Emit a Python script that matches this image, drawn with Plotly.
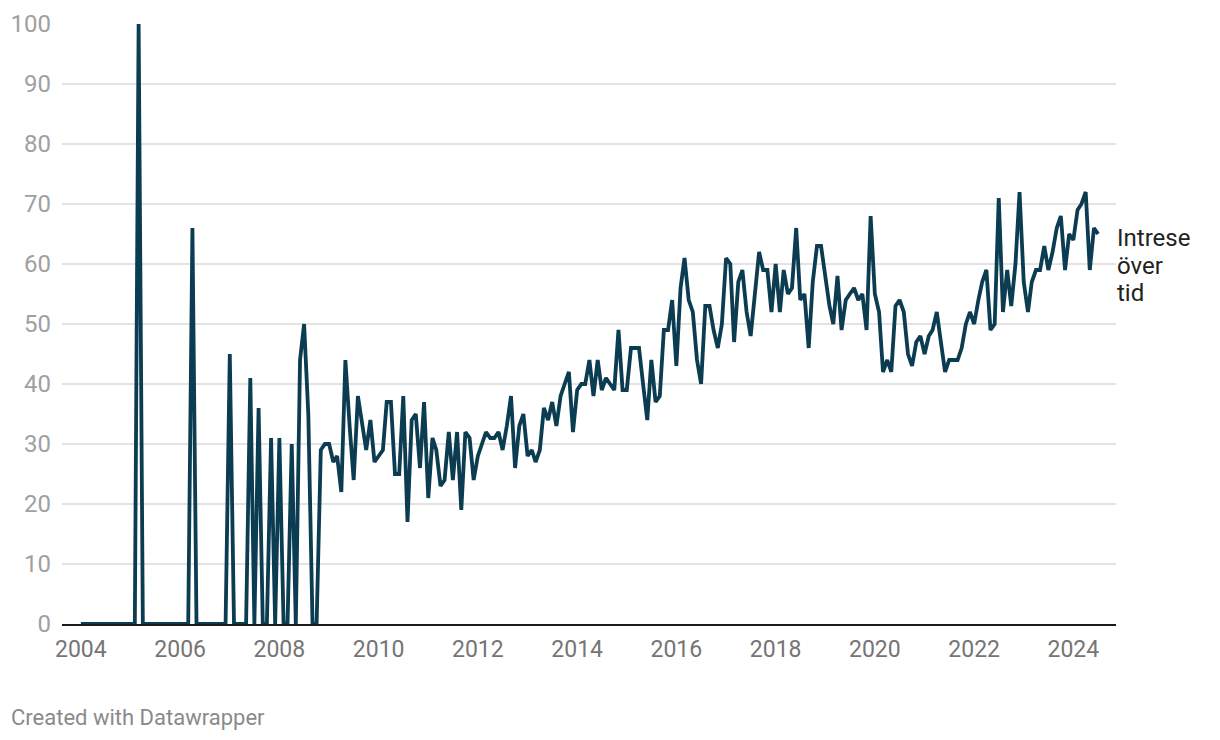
import plotly.graph_objects as go
import pandas as pd

start_month = "2004-01-01"
values = [
    # 2004
    0, 0, 0, 0, 0, 0, 0, 0, 0, 0, 0, 0,
    # 2005
    0, 0, 100, 0, 0, 0, 0, 0, 0, 0, 0, 0,
    # 2006
    0, 0, 0, 66, 0, 0, 0, 0, 0, 0, 0, 0,
    # 2007
    45, 0, 0, 0, 0, 41, 0, 36, 0, 0, 31, 0,
    # 2008
    31, 0, 0, 30, 0, 44, 50, 35, 0, 0, 29, 30,
    # 2009
    30, 27, 28, 22, 44, 33, 24, 38, 33, 29, 34, 27,
    # 2010
    28, 29, 37, 37, 25, 25, 38, 17, 34, 35, 26, 37,
    # 2011
    21, 31, 29, 23, 24, 32, 24, 32, 19, 32, 31, 24,
    # 2012
    28, 30, 32, 31, 31, 32, 29, 33, 38, 26, 33, 35,
    # 2013
    28, 29, 27, 29, 36, 34, 37, 33, 38, 40, 42, 32,
    # 2014
    39, 40, 40, 44, 38, 44, 39, 41, 40, 39, 49, 39,
    # 2015
    39, 46, 46, 46, 40, 34, 44, 37, 38, 49, 49, 54,
    # 2016
    43, 56, 61, 54, 52, 44, 40, 53, 53, 49, 46, 50,
    # 2017
    61, 60, 47, 57, 59, 52, 48, 55, 62, 59, 59, 52,
    # 2018
    60, 52, 59, 55, 56, 66, 54, 55, 46, 57, 63, 63,
    # 2019
    58, 53, 50, 58, 49, 54, 55, 56, 54, 55, 49, 68,
    # 2020
    55, 52, 42, 44, 42, 53, 54, 52, 45, 43, 47, 48,
    # 2021
    45, 48, 49, 52, 47, 42, 44, 44, 44, 46, 50, 52,
    # 2022
    50, 54, 57, 59, 49, 50, 71, 52, 59, 53, 60, 72,
    # 2023
    57, 52, 57, 59, 59, 63, 59, 62, 66, 68, 59, 65,
    # 2024
    64, 69, 70, 72, 59, 66, 65,
]
series_label_lines = ["Intrese", "över", "tid"]
x_tick_labels = ["2004", "2006", "2008", "2010", "2012", "2014", "2016",
                 "2018", "2020", "2022", "2024"]
y_ticks = [0, 10, 20, 30, 40, 50, 60, 70, 80, 90, 100]
footer_text = "Created with Datawrapper"

dates = pd.date_range(start_month, periods=len(values), freq="MS")

fig = go.Figure()
fig.add_trace(go.Scatter(
    x=dates, y=values, mode="lines",
    line=dict(color="#0b3c51", width=3.8),
    hoverinfo="skip", showlegend=False,
))

# series label, one line per annotation to control line spacing
for i, line_text in enumerate(series_label_lines):
    fig.add_annotation(
        x=1.0, xref="paper", y=0, yref="paper",
        yshift=(624 - 238) - 27.5 * i,
        text=line_text, showarrow=False, xanchor="left", yanchor="middle",
        align="left", font=dict(family="Roboto", size=24, color="#222222"),
        xshift=-1,
    )

fig.add_annotation(
    x=0, xref="paper", y=0, yref="paper",
    xshift=(10 - 62) - 1, yshift=-(717 - 624),
    text=footer_text, showarrow=False, xanchor="left", yanchor="middle",
    font=dict(family="Roboto", size=22, color="#8a8a8a"),
)

fig.update_layout(
    width=1212, height=732,
    margin=dict(l=54, r=104, t=16, b=116, autoexpand=False),
    paper_bgcolor="white", plot_bgcolor="white",
    font=dict(family="Roboto"),
    xaxis=dict(
        type="date", automargin=False,
        range=["2003-08-15", "2024-11-10"],
        tickvals=[pd.Timestamp(f"{t}-01-01") for t in x_tick_labels],
        ticktext=x_tick_labels,
        showgrid=False, zeroline=False,
        showline=True, linecolor="#1a1a1a", linewidth=2,
        ticks="", ticklabelstandoff=3,
        tickfont=dict(family="Roboto", size=23, color="#757575"),
    ),
    yaxis=dict(
        range=[0, 100], tickvals=y_ticks, automargin=False,
        showgrid=True, gridcolor="#e3e3e3", gridwidth=1.8,
        zeroline=False, ticks="", ticklabelstandoff=10,
        tickfont=dict(family="Roboto", size=24, color="#a0a0a0"),
    ),
)

fig.write_html("out.html")
